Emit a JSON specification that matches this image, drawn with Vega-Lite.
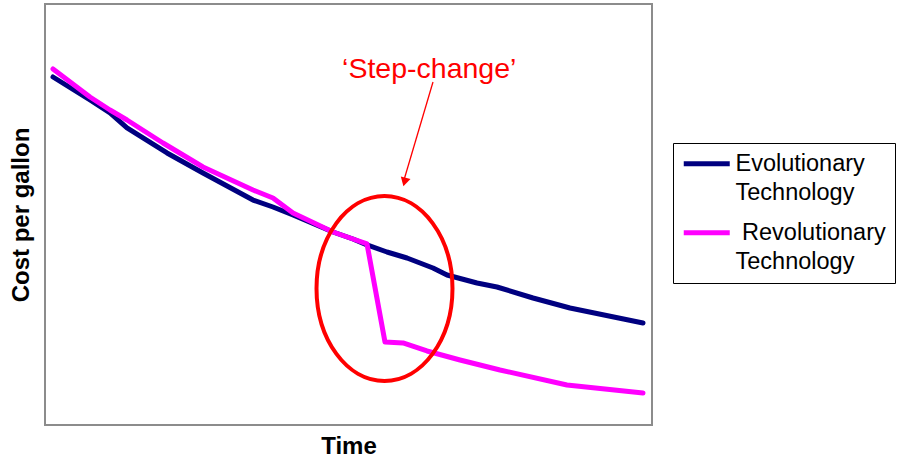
{
  "$schema": "https://vega.github.io/schema/vega-lite/v6.json",
  "autosize": {"type": "none"},
  "padding": {"left": 45, "top": 4, "right": 253, "bottom": 34},
  "width": 607,
  "height": 421,
  "config": {
    "view": {"stroke": "#8c8c8c", "strokeWidth": 2},
    "font": "Liberation Sans",
    "style": {"guide-label": {"lineHeight": 29}}
  },
  "layer": [
    {
      "data": {"values": [
        {"series": "Evolutionary", "t": 1.32, "c": 82.66},
        {"series": "Evolutionary", "t": 7.41, "c": 77.20},
        {"series": "Evolutionary", "t": 10.71, "c": 74.11},
        {"series": "Evolutionary", "t": 13.51, "c": 70.55},
        {"series": "Evolutionary", "t": 20.10, "c": 64.61},
        {"series": "Evolutionary", "t": 26.03, "c": 59.86},
        {"series": "Evolutionary", "t": 34.27, "c": 53.44},
        {"series": "Evolutionary", "t": 37.56, "c": 51.78},
        {"series": "Evolutionary", "t": 40.86, "c": 49.88},
        {"series": "Evolutionary", "t": 47.45, "c": 45.84},
        {"series": "Evolutionary", "t": 50.74, "c": 44.18},
        {"series": "Evolutionary", "t": 53.05, "c": 42.76},
        {"series": "Evolutionary", "t": 56.34, "c": 41.09},
        {"series": "Evolutionary", "t": 59.64, "c": 39.67},
        {"series": "Evolutionary", "t": 63.92, "c": 37.29},
        {"series": "Evolutionary", "t": 66.23, "c": 35.63},
        {"series": "Evolutionary", "t": 71.17, "c": 33.73},
        {"series": "Evolutionary", "t": 74.46, "c": 32.78},
        {"series": "Evolutionary", "t": 80.40, "c": 30.17},
        {"series": "Evolutionary", "t": 86.49, "c": 27.79},
        {"series": "Evolutionary", "t": 98.52, "c": 24.23},
        {"series": "Revolutionary", "t": 1.32, "c": 84.56},
        {"series": "Revolutionary", "t": 7.41, "c": 77.91},
        {"series": "Revolutionary", "t": 10.71, "c": 74.82},
        {"series": "Revolutionary", "t": 13.51, "c": 72.45},
        {"series": "Revolutionary", "t": 19.44, "c": 66.98},
        {"series": "Revolutionary", "t": 26.03, "c": 61.28},
        {"series": "Revolutionary", "t": 34.27, "c": 55.82},
        {"series": "Revolutionary", "t": 37.56, "c": 53.92},
        {"series": "Revolutionary", "t": 40.86, "c": 50.36},
        {"series": "Revolutionary", "t": 47.45, "c": 45.84},
        {"series": "Revolutionary", "t": 50.74, "c": 44.18},
        {"series": "Revolutionary", "t": 53.05, "c": 43.0},
        {"series": "Revolutionary", "t": 56.01, "c": 19.71},
        {"series": "Revolutionary", "t": 58.98, "c": 19.48},
        {"series": "Revolutionary", "t": 62.93, "c": 17.58},
        {"series": "Revolutionary", "t": 68.37, "c": 15.44},
        {"series": "Revolutionary", "t": 74.96, "c": 13.06},
        {"series": "Revolutionary", "t": 85.99, "c": 9.50},
        {"series": "Revolutionary", "t": 98.52, "c": 7.60}
      ]},
      "mark": {"type": "line", "strokeWidth": 5, "strokeCap": "round", "strokeJoin": "round"},
      "encoding": {
        "x": {"field": "t", "type": "quantitative", "scale": {"domain": [0, 100], "nice": false, "zero": false},
              "axis": {"title": "Time", "labels": false, "ticks": false, "domain": false, "grid": false,
                       "titleFontSize": 24, "titleFontWeight": "bold", "titleColor": "black", "titlePadding": 9}},
        "y": {"field": "c", "type": "quantitative", "scale": {"domain": [0, 100], "nice": false, "zero": false},
              "axis": {"title": "Cost per gallon", "labels": false, "ticks": false, "domain": false, "grid": false,
                       "titleFontSize": 24, "titleFontWeight": "bold", "titleColor": "black", "titlePadding": 12}},
        "color": {"field": "series", "type": "nominal",
                  "scale": {"domain": ["Evolutionary", "Revolutionary"], "range": ["#000080", "#ff00ff"]},
                  "legend": {"title": null, "orient": "none", "legendX": 628, "legendY": 139,
                             "labelExpr": "datum.label == 'Evolutionary' ? ['Evolutionary', 'Technology'] : ['\u200b\u00a0Revolutionary', 'Technology']",
                             "symbolType": "M-2,0H7.2", "symbolSize": 100, "symbolStrokeWidth": 5,
                             "labelFontSize": 23.5, "labelColor": "black", "labelLimit": 300, "labelOffset": 30,
                             "labelBaseline": "middle",
                             "strokeColor": "black", "fillColor": "white", "padding": 9, "rowPadding": 15}}
      }
    },
    {
      "data": {"values": [{"t": 55.93, "c": 32.42}]},
      "mark": {"type": "point", "shape": "M-0.735,0A0.735,1,0,1,0,0.735,0A0.735,1,0,1,0,-0.735,0Z",
               "size": 34225, "filled": false, "stroke": "#ff0000", "strokeWidth": 4, "opacity": 1},
      "encoding": {
        "x": {"field": "t", "type": "quantitative"},
        "y": {"field": "c", "type": "quantitative"}
      }
    },
    {
      "data": {"values": [{"t": 63.92, "c": 81.47, "t2": 59.14, "c2": 58.19}]},
      "mark": {"type": "rule", "color": "#ff0000", "strokeWidth": 1.3},
      "encoding": {
        "x": {"field": "t", "type": "quantitative"},
        "y": {"field": "c", "type": "quantitative"},
        "x2": {"field": "t2"},
        "y2": {"field": "c2"}
      }
    },
    {
      "data": {"values": [{"t": 59.23, "c": 57.72}]},
      "mark": {"type": "point", "shape": "triangle-down", "size": 100, "filled": true, "color": "#ff0000", "angle": 15, "opacity": 1},
      "encoding": {
        "x": {"field": "t", "type": "quantitative"},
        "y": {"field": "c", "type": "quantitative"}
      }
    },
    {
      "data": {"values": [{"t": 63.3, "c": 82.4, "label": "‘Step-change’"}]},
      "mark": {"type": "text", "color": "#ff0000", "fontSize": 28.5, "align": "center", "baseline": "alphabetic", "font": "Liberation Sans"},
      "encoding": {
        "x": {"field": "t", "type": "quantitative"},
        "y": {"field": "c", "type": "quantitative"},
        "text": {"field": "label"}
      }
    }
  ]
}
